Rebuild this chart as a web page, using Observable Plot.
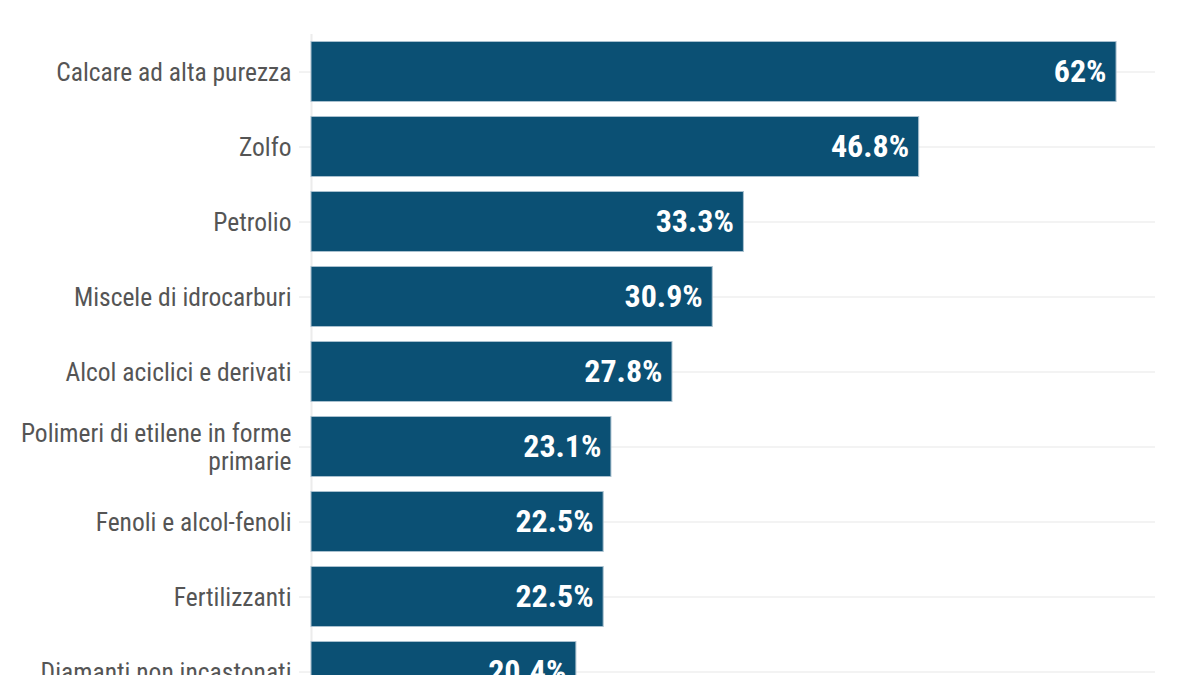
<!DOCTYPE html>
<html>
<head>
<meta charset="utf-8">
<script src="https://cdn.jsdelivr.net/npm/d3@7"></script>
<script src="https://cdn.jsdelivr.net/npm/@observablehq/plot@0.6"></script>
<style>
  html, body { margin: 0; padding: 0; background: #fff; }
  #chart { width: 1200px; }
</style>
</head>
<body>
<div id="chart"></div>
<script>
const categories = [
  "Calcare ad alta purezza",
  "Zolfo",
  "Petrolio",
  "Miscele di idrocarburi",
  "Alcol aciclici e derivati",
  "Polimeri di etilene in forme\nprimarie",
  "Fenoli e alcol-fenoli",
  "Fertilizzanti",
  "Diamanti non incastonati"
];
const values = [62, 46.8, 33.3, 30.9, 27.8, 23.1, 22.5, 22.5, 20.4];

const data = categories.map((c, i) => ({category: c, value: values[i]}));
const font = "'Roboto Condensed', 'Liberation Sans Narrow', 'DejaVu Sans Condensed', sans-serif";

const chart = Plot.plot({
  width: 1200,
  height: 709,
  marginTop: 34,
  marginBottom: 0,
  marginLeft: 311,
  marginRight: 45,
  style: {fontFamily: font, background: "#fff"},
  x: {domain: [0, 65], axis: null},
  y: {domain: categories, paddingInner: 0.2, paddingOuter: 0.1, round: false, label: null},
  marks: [
    Plot.gridY({stroke: "#e8e8e8", strokeOpacity: 1, strokeWidth: 1.2}),
    Plot.ruleX([0], {stroke: "#ececec", strokeWidth: 2}),
    Plot.axisY({
      tickSize: 12,
      tickPadding: 8,
      stroke: "#e6e6e6",
      fontSize: 25.5,
      fill: "#555",
      lineHeight: 1.08,
      label: null
    }),
    Plot.barX(data, {
      x: "value",
      y: "category",
      fill: "#0b5074",
      stroke: "#a9c0cf",
      strokeWidth: 1
    }),
    Plot.text(data, {
      x: "value",
      y: "category",
      text: d => d.value + "%",
      textAnchor: "end",
      dx: -10,
      fill: "#fff",
      fontSize: 32,
      fontWeight: "bold"
    })
  ]
});
document.getElementById("chart").append(chart);
</script>
</body>
</html>
